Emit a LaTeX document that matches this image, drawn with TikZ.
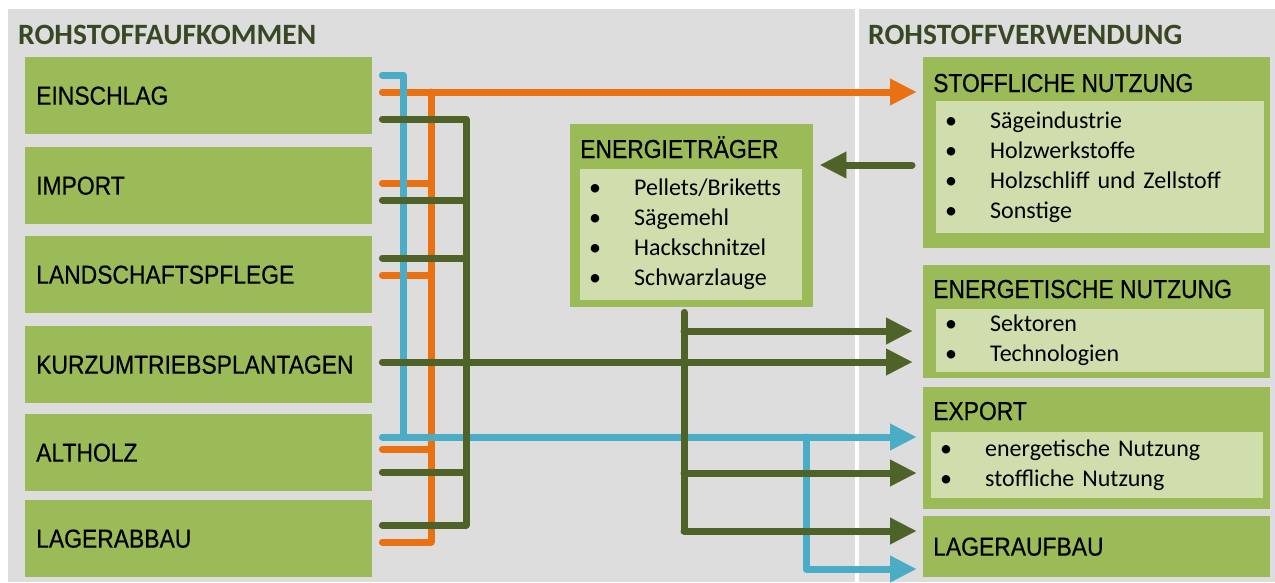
\documentclass[tikz,border=0pt]{standalone}
\usepackage{fontspec}
\setmainfont{Carlito}
\newfontfamily\narrowfont{Liberation Sans}[FakeStretch=0.88,FakeBold=0.5]
\usepackage{xcolor}
\usetikzlibrary{arrows.meta}

\definecolor{bggray}{HTML}{DDDDDD}
\definecolor{boxgreen}{HTML}{9BBB59}
\definecolor{boxlight}{HTML}{D0DEAE}
\definecolor{dkgreen}{HTML}{4F6228}
\definecolor{lorange}{HTML}{EA7112}
\definecolor{lblue}{HTML}{4BACC6}
\definecolor{titlegreen}{HTML}{3A4724}

\newcommand\pkt{\makebox[45pt][l]{\textbullet}}

\begin{document}
\begin{tikzpicture}[x=1pt,y=-1pt,
	lbox/.style={rectangle,fill=boxgreen,anchor=north west,minimum width=347pt,minimum height=77pt,
		inner xsep=11pt,text width=325pt,align=left,font=\narrowfont\fontsize{26}{30}\selectfont},
	rbox/.style={rectangle,fill=boxgreen,anchor=north west,inner sep=0pt,minimum width=347pt},
	btitle/.style={anchor=base west,inner sep=0pt,font=\narrowfont\fontsize{26}{30}\selectfont},
	htitle/.style={anchor=base west,inner sep=0pt,text=titlegreen,font=\bfseries\fontsize{29.5}{30}\selectfont},
	inbox/.style={rectangle,fill=boxlight,anchor=north west,inner xsep=9pt,align=left,font=\fontsize{24}{30}\selectfont},
	orng/.style={draw=lorange,line width=7pt,line cap=round,line join=round},
	blu/.style={draw=lblue,line width=7pt,line cap=round,line join=round},
	dgr/.style={draw=dkgreen,line width=7pt,line cap=round,line join=round},
	pfeil/.style={-{Triangle[length=26pt,width=27pt,line width=0.1pt]}}]
	\useasboundingbox (0,0) rectangle (1275,582);
	\fill[bggray] (8,9) rectangle (1275,582);
	\fill[white] (855,9) rectangle (859,582);

	\node[htitle] (hl) at (18,44) {ROHSTOFFAUFKOMMEN};
	\node[htitle] (hr) at (868,44) {ROHSTOFFVERWENDUNG};

	\node[lbox] (ein) at (25,57) {EINSCHLAG};
	\node[lbox] (imp) at (25,147) {IMPORT};
	\node[lbox] (lsp) at (25,236) {LANDSCHAFTSPFLEGE};
	\node[lbox] (kup) at (25,326) {KURZUMTRIEBSPLANTAGEN};
	\node[lbox] (alt) at (25,414) {ALTHOLZ};
	\node[lbox] (lab) at (25,500) {LAGERABBAU};

	\node[rbox,minimum height=191pt] (stoff) at (923,57) {};
	\node[btitle] (stofft) at (933,92) {STOFFLICHE NUTZUNG};
	\node[inbox,text width=310pt,minimum height=132pt] (stoffl) at (936,101)
		{\pkt Sägeindustrie\\ \pkt Holzwerkstoffe\\ \pkt Holzschliff und Zellstoff\\ \pkt Sonstige};

	\node[rbox,minimum height=113pt] (energ) at (923,265) {};
	\node[btitle] (energt) at (933,298) {ENERGETISCHE NUTZUNG};
	\node[inbox,text width=310pt,minimum height=63pt] (energl) at (936,309)
		{\pkt Sektoren\\ \pkt Technologien};

	\node[rbox,minimum height=122pt] (exp) at (923,387) {};
	\node[btitle] (expt) at (933,420) {EXPORT};
	\node[inbox,text width=314pt,minimum height=66pt] (expl) at (931,432)
		{\pkt energetische Nutzung\\ \pkt stoffliche Nutzung};

	\node[lbox,minimum height=61pt,inner xsep=10pt,text width=327pt] (lauf) at (923,516) {LAGERAUFBAU};

	\node[rbox,minimum width=243pt,minimum height=183pt] (etr) at (570,124) {};
	\node[btitle] (etrt) at (580,158) {ENERGIETRÄGER};
	\node[inbox,text width=204pt,minimum height=131pt] (etrl) at (580,169)
		{\pkt Pellets/Briketts\\ \pkt Sägemehl\\ \pkt Hackschnitzel\\ \pkt Schwarzlauge};

	% Sammelleitungen
	\coordinate (oA) at (431,92);
	\coordinate (oB) at (431,183);
	\coordinate (oC) at (431,275);
	\coordinate (oD) at (431,449);
	\coordinate (oE) at (431,542);
	\coordinate (bA) at (403,75);
	\coordinate (bB) at (403,437);
	\coordinate (bC) at (806,437);
	\coordinate (bD) at (806,569);
	\coordinate (gA) at (466,119);
	\coordinate (gB) at (466,200);
	\coordinate (gC) at (466,258);
	\coordinate (gD) at (466,362);
	\coordinate (gE) at (466,472);
	\coordinate (gF) at (466,525);
	\coordinate (eB) at (684,331);
	\coordinate (eC) at (684,473);
	\coordinate (eD) at (684,531);
	\coordinate (rueck) at (880,165);

	\draw[orng,pfeil,shorten <=10pt,shorten >=7pt] (ein.east |- oA) -- (stoff.west |- oA);
	\draw[orng] (oA) -- (oE);
	\draw[orng,shorten <=10pt] (imp.east |- oB) -- (oB);
	\draw[orng,shorten <=10pt] (lsp.east |- oC) -- (oC);
	\draw[orng,shorten <=10pt] (alt.east |- oD) -- (oD);
	\draw[orng,shorten <=10pt] (lab.east |- oE) -- (oE);

	\draw[blu,shorten <=10pt] (ein.east |- bA) -- (bA) -- (bB);
	\draw[blu,pfeil,shorten <=10pt,shorten >=7pt] (alt.east |- bB) -- (exp.west |- bB);
	\draw[blu,pfeil,shorten >=7pt] (bC) -- (bD) -- (lauf.west |- bD);

	\draw[dgr,shorten <=10pt,shorten >=10pt] (ein.east |- gA) -- (gA) -- (gF) -- (lab.east |- gF);
	\draw[dgr,shorten <=10pt] (imp.east |- gB) -- (gB);
	\draw[dgr,shorten <=10pt] (lsp.east |- gC) -- (gC);
	\draw[dgr,shorten <=10pt] (alt.east |- gE) -- (gE);
	\draw[dgr,pfeil,shorten <=10pt,shorten >=11pt] (kup.east |- gD) -- (energ.west |- gD);
	\draw[dgr,shorten <=5pt] (etr.south -| eD) -- (eD);
	\draw[dgr,pfeil,shorten >=11pt] (eB) -- (energ.west |- eB);
	\draw[dgr,pfeil,shorten >=7pt] (eC) -- (exp.west |- eC);
	\draw[dgr,pfeil,shorten >=7pt] (eD) -- (lauf.west |- eD);
	\draw[dgr,pfeil,shorten <=11pt,shorten >=7pt] (stoff.west |- rueck) -- (etr.east |- rueck);
\end{tikzpicture}
\end{document}
